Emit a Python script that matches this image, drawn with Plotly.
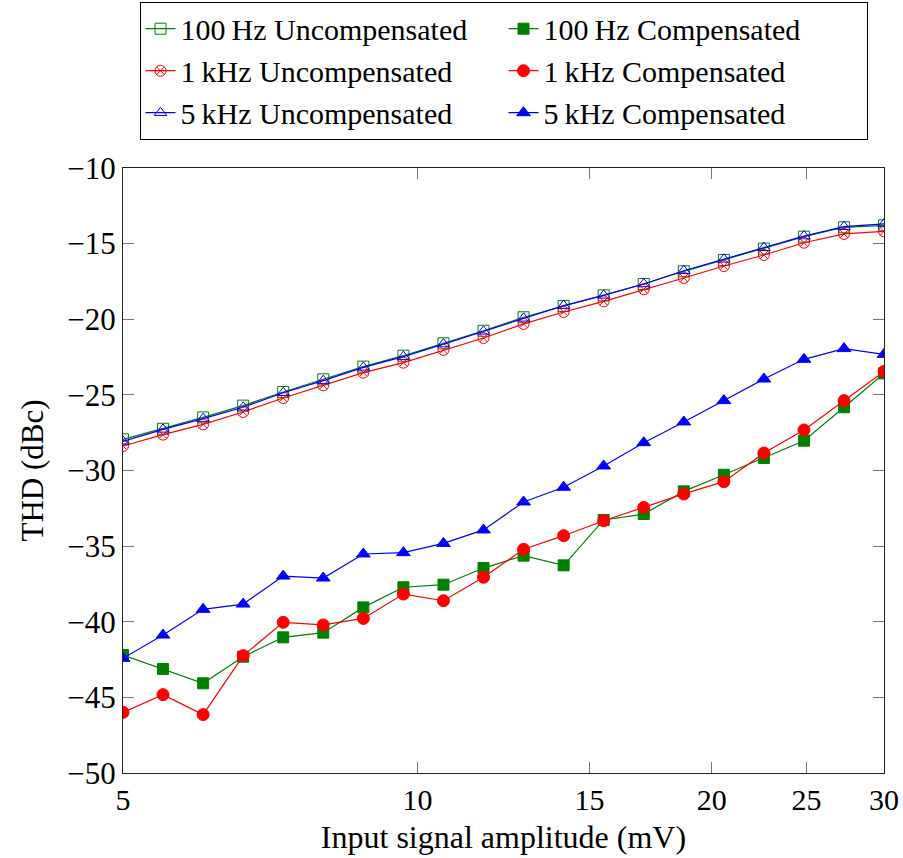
import plotly.graph_objects as go

amplitude_mv = [5.000, 5.494, 6.038, 6.635, 7.291, 8.012, 8.805, 9.676, 10.633, 11.684,
                12.840, 14.110, 15.505, 17.039, 18.724, 20.576, 22.611, 24.847, 27.305, 30.0]

thd_100hz_unc = [-27.94, -27.24, -26.49, -25.71, -24.81, -23.97, -23.13, -22.41, -21.59, -20.76,
                 -19.87, -19.12, -18.42, -17.67, -16.83, -16.08, -15.33, -14.54, -13.92, -13.79]
thd_100hz_comp = [-42.20, -43.12, -44.07, -42.31, -41.03, -40.72, -39.05, -37.72, -37.55, -36.45,
                  -35.63, -36.27, -33.27, -32.88, -31.38, -30.28, -29.17, -28.03, -25.82, -23.58]
thd_1khz_unc = [-28.38, -27.63, -26.95, -26.13, -25.21, -24.37, -23.53, -22.87, -22.03, -21.24,
                -20.31, -19.52, -18.82, -18.02, -17.27, -16.48, -15.75, -14.94, -14.36, -14.19]
thd_1khz_comp = [-45.99, -44.82, -46.14, -42.24, -40.04, -40.21, -39.78, -38.17, -38.61, -37.06,
                 -35.21, -34.31, -33.32, -32.44, -31.55, -30.74, -28.84, -27.32, -25.38, -23.45]
thd_5khz_unc = [-28.07, -27.28, -26.57, -25.82, -24.86, -24.06, -23.18, -22.47, -21.64, -20.80,
                -19.94, -19.10, -18.42, -17.67, -16.79, -16.04, -15.27, -14.50, -13.88, -13.70]
thd_5khz_comp = [-42.42, -40.88, -39.18, -38.83, -36.98, -37.11, -35.52, -35.43, -34.82, -33.93,
                 -32.08, -31.11, -29.70, -28.16, -26.79, -25.38, -23.95, -22.65, -21.94, -22.32]

x_ticks = [5, 10, 15, 20, 25, 30]
y_ticks = [-50, -45, -40, -35, -30, -25, -20, -15, -10]

GREEN = "#008000"
RED = "#ff0000"
BLUE = "#0000ff"
FONT = "Liberation Serif, DejaVu Serif, serif"

series = [
    ("100\u2009Hz Uncompensated", thd_100hz_unc, GREEN, "square-open", 11),
    ("100\u2009Hz Compensated", thd_100hz_comp, GREEN, "square", 11),
    ("1\u2009kHz Uncompensated", thd_1khz_unc, RED, "circle-x-open", 11),
    ("1\u2009kHz Compensated", thd_1khz_comp, RED, "circle", 12),
    ("5\u2009kHz Uncompensated", thd_5khz_unc, BLUE, "triangle-up-open", 11),
    ("5\u2009kHz Compensated", thd_5khz_comp, BLUE, "triangle-up", 12),
]

fig = go.Figure()
for name, vals, color, symbol, size in series:
    fig.add_trace(go.Scatter(
        x=amplitude_mv, y=vals, name=name, mode="lines+markers",
        line=dict(color=color, width=1.2),
        marker=dict(symbol=symbol, size=size, color=color,
                    line=dict(color=color, width=1)),
    ))

fig.update_layout(
    width=903, height=858,
    margin=dict(l=123, r=19, t=168, b=85, autoexpand=False),
    paper_bgcolor="white", plot_bgcolor="white",
    font=dict(family=FONT, size=30, color="black"),
    showlegend=True,
    legend=dict(
        orientation="h", xref="paper", x=0.5, xanchor="center",
        yref="container", y=0.998, yanchor="top",
        entrywidth=318, entrywidthmode="pixels",
        bordercolor="black", borderwidth=1,
        font=dict(family=FONT, size=30),
        tracegroupgap=0,
    ),
    xaxis=dict(
        type="log", range=[0.69897, 1.4771],
        tickvals=x_ticks, ticktext=[str(v) for v in x_ticks],
        ticks="inside", ticklen=11, tickwidth=1, tickcolor="#777",
        showline=True, linecolor="#222", linewidth=1.3, mirror="allticks",
        showgrid=False, zeroline=False,
        title=dict(text="Input signal amplitude (mV)", font=dict(family=FONT, size=32), standoff=10),
        tickfont=dict(family=FONT, size=30),
    ),
    yaxis=dict(
        range=[-50, -10], tickvals=y_ticks,
        ticks="inside", ticklen=11, tickwidth=1, tickcolor="#777",
        showline=True, linecolor="#222", linewidth=1.3, mirror="allticks",
        showgrid=False, zeroline=False,
        title=dict(text="THD (dBc)", font=dict(family=FONT, size=31), standoff=14),
        tickfont=dict(family=FONT, size=31),
    ),
)

fig.write_html("out.html")
